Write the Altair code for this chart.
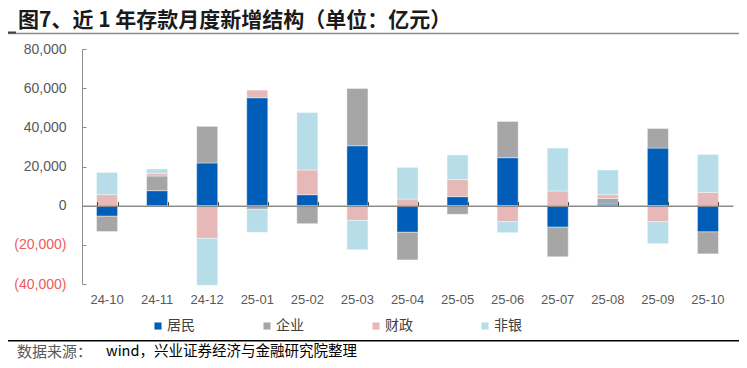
import altair as alt
import pandas as pd

# ---- data (亿元) ----
months = ["24-10", "24-11", "24-12", "25-01", "25-02", "25-03", "25-04",
          "25-05", "25-06", "25-07", "25-08", "25-09", "25-10"]
series = ["居民", "企业", "财政", "非银"]
household = [-5400, 7650, 21800, 55100, 5600, 30600, -13600, 4600, 24500, -11000, 800, 29400, -13400]
corporate = [-7800, 7500, 18700, -1900, -9200, 29200, -14100, -4400, 18500, -15100, 2900, 10000, -11200]
fiscal = [5600, 1360, -16700, 3900, 12600, -7500, 3400, 8700, -8200, 7500, 1900, -8200, 6800]
nonbank = [11400, 2200, -24000, -11700, 29400, -15000, 16150, 12600, -5600, 21900, 12600, -11200, 19400]
colors = ["#005EB8", "#A6A6A6", "#E6B9B8", "#B7DEE8"]
y_ticks = [-40000, -20000, 0, 20000, 40000, 60000, 80000]
title_text = "图7、近 1 年存款月度新增结构（单位：亿元）"
footer_label = "数据来源："
footer_text = "wind，兴业证券经济与金融研究院整理"

rows = []
for k, (name, vals) in enumerate(zip(series, [household, corporate, fiscal, nonbank])):
    for m, v in zip(months, vals):
        rows.append({"month": m, "series": name, "value": v, "order": k})
df = pd.DataFrame(rows)
one = pd.DataFrame({"k": [0]})

W, H = 651, 235
FONT = "Liberation Sans, Arial, Noto Sans CJK SC"
CJK = "Noto Sans CJK SC"

x_scale = alt.Scale(domain=months, paddingInner=0.58, paddingOuter=0.29)
y_scale = alt.Scale(domain=[-40000, 80000], nice=False, zero=False)

label_expr = ("datum.value < 0 ? '(' + format(-datum.value, ',') + ')' : "
              "format(datum.value, ',')")

bars = alt.Chart(df).mark_bar(stroke="white", strokeWidth=0.4).encode(
    x=alt.X("month:N", scale=x_scale, sort=months, title=None,
            axis=alt.Axis(orient="bottom", domain=False, ticks=False, labelAngle=0,
                          labelPadding=9, labelFontSize=13, labelColor="#595959",
                          labelFont=FONT)),
    y=alt.Y("value:Q", scale=y_scale, stack="zero", title=None,
            axis=alt.Axis(values=y_ticks, grid=False, ticks=False, domainColor="#8c8c8c",
                          domainWidth=1, labelExpr=label_expr,
                          labelColor={"condition": {"test": "datum.value < 0", "value": "#F05A5A"},
                                      "value": "#595959"},
                          labelFontSize=14, labelFont=FONT, labelPadding=16)),
    color=alt.Color("series:N", scale=alt.Scale(domain=series, range=colors),
                    legend=alt.Legend(orient="none", legendX=69, legendY=270,
                                      direction="horizontal", title=None,
                                      symbolType="square", symbolSize=50,
                                      symbolStrokeWidth=0, labelFontSize=14,
                                      labelFont=CJK, labelColor="#404040",
                                      columnPadding=65, labelOffset=2)),
    order=alt.Order("order:Q", sort="ascending"),
)

helper = alt.Chart(df).mark_point(opacity=0).encode(
    x=alt.X("month:N", scale=x_scale, sort=months, title=None,
            axis=alt.Axis(orient="top", offset=-H * 2 / 3, labels=False,
                          domainColor="#8c8c8c", domainWidth=1.5, tickBand="extent",
                          tickColor="#404040", tickSize=4, zindex=1)),
    y=alt.Y("value:Q", scale=y_scale, title=None,
            axis=alt.Axis(orient="right", offset=-W, labels=False, domain=False,
                          values=y_ticks, grid=False, tickColor="#8c8c8c", tickSize=4)),
)

title_rule = alt.Chart(one).mark_rule(color="#8c8c8c", strokeWidth=1.5).encode(
    x=alt.value(-74), x2=alt.value(657), y=alt.value(-15.5))
title_mark = alt.Chart(one).mark_rule(color="#404040", strokeWidth=2).encode(
    x=alt.value(-74), x2=alt.value(-66), y=alt.value(-16.5))
foot_rule = alt.Chart(one).mark_rule(color="#000000", strokeWidth=1.5).encode(
    x=alt.value(-74), x2=alt.value(657), y=alt.value(291.7))
foot_label = alt.Chart(one).mark_text(align="left", baseline="middle", fontSize=15,
                                      font=CJK, color="#595959").encode(
    x=alt.value(-65), y=alt.value(303), text=alt.value(footer_label))
foot_text = alt.Chart(one).mark_text(align="left", baseline="middle", fontSize=14.5,
                                     font=CJK, color="#000000").encode(
    x=alt.value(24), y=alt.value(303), text=alt.value(footer_text))

chart = alt.layer(bars, helper, title_rule, title_mark, foot_rule, foot_label, foot_text).resolve_axis(
    x="independent", y="independent"
).properties(
    width=W, height=H,
    padding={"left": 74, "top": 41, "right": 6, "bottom": 76},
    autosize=alt.AutoSizeParams(type="none"),
    title=alt.TitleParams(title_text, anchor="start", frame="group", font=CJK,
                          fontSize=21, fontWeight="bold", color="#1a1a1a", dx=-64, dy=9,
                          offset=10),
).configure_view(stroke=None)

chart.save("out.html", embed_options={"renderer": "svg", "actions": False})
